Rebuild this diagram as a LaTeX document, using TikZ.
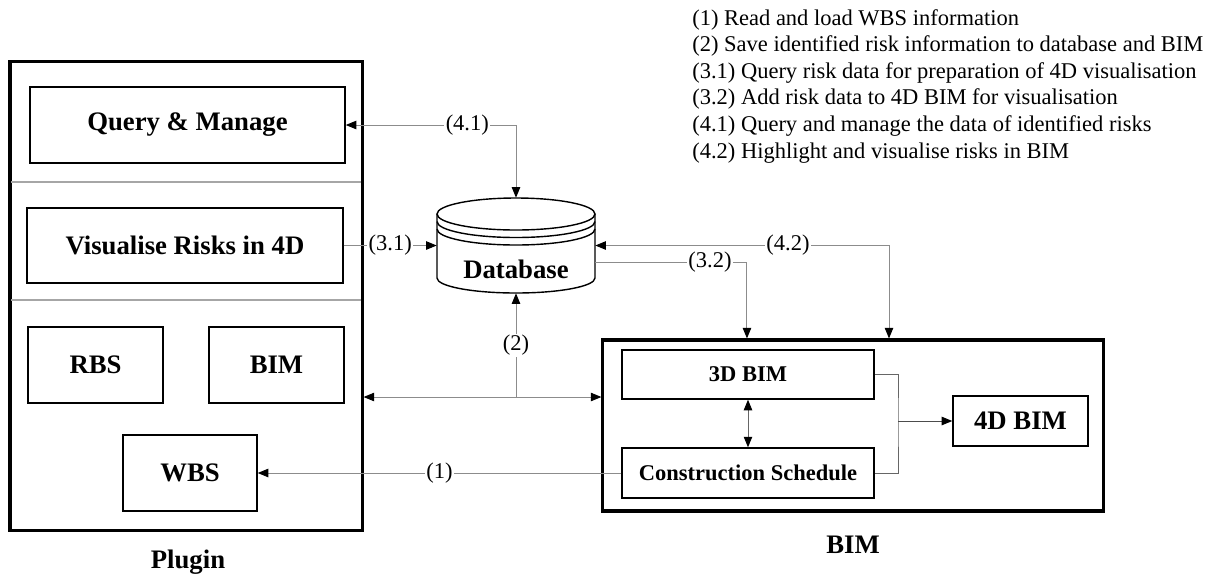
\documentclass[tikz,border=0pt]{standalone}
\usepackage{fontspec}
\setmainfont{Liberation Serif}
\usetikzlibrary{arrows.meta}

\tikzset{
	bigbox/.style={draw, line width=2.2pt, inner sep=0pt},
	box/.style={draw, line width=1pt, inner sep=0pt, font=\fontsize{19}{22}\selectfont\bfseries},
	smallbox/.style={box, font=\fontsize{16}{19}\selectfont\bfseries},
	divider/.style={draw=black!35, line width=0.9pt},
	conn/.style={draw=black!45, line width=0.7pt},
	lbl/.style={fill=white, inner sep=1pt, font=\fontsize{16}{18}\selectfont},
	title/.style={font=\fontsize{19}{22}\selectfont\bfseries}
}

\begin{document}
\begin{tikzpicture}[x=0.025cm, y=0.025cm, >={Triangle[length=7.5pt, width=6pt, color=black]}]
	\useasboundingbox (0, 0) rectangle (1219, -575);

	% plugin
	\node[bigbox, minimum width=8.8cm, minimum height=11.7cm] (plugin) at (186, -296) {};
	\draw[divider] (11, -182) -- (361, -182);
	\draw[divider] (11, -300) -- (361, -300);
	\node[box, minimum width=7.875cm, minimum height=1.9cm] (query) at (187.5, -125) {Query \& Manage};
	\node[box, minimum width=7.9cm, minimum height=1.875cm] (visual) at (185, -245.5) {Visualise Risks in 4D};
	\node[box, minimum width=3.375cm, minimum height=1.9cm] (rbs) at (95.5, -365) {RBS};
	\node[box, minimum width=3.375cm, minimum height=1.9cm] (pbim) at (276.5, -365) {BIM};
	\node[box, minimum width=3.35cm, minimum height=1.9cm] (wbs) at (190, -473) {WBS};
	\node[title] (plugintitle) at (188, -562) {Plugin};

	% database
	\node[minimum width=3.95cm, minimum height=2.375cm, inner sep=0pt] (db) at (516, -245.5) {};
	\draw[line width=1pt] (437, -214) -- (437, -278)
		arc[start angle=180, end angle=360, x radius=79, y radius=15] -- (595, -214);
	\draw[line width=1pt] (516, -214) ellipse[x radius=79, y radius=16];
	\draw[line width=1pt] (437, -221.5) arc[start angle=180, end angle=360, x radius=79, y radius=16];
	\draw[line width=1pt] (437, -229) arc[start angle=180, end angle=360, x radius=79, y radius=16];
	\node[title] (dbtext) at (516, -269) {Database};

	% BIM
	\node[bigbox, minimum width=12.5cm, minimum height=4.275cm] (bim) at (853, -425.5) {};
	\node[smallbox, minimum width=6.3cm, minimum height=1.225cm] (bim3d) at (748, -374.5) {3D BIM};
	\node[smallbox, minimum width=6.3cm, minimum height=1.25cm] (sched) at (748, -473) {Construction Schedule};
	\node[box, minimum width=3.375cm, minimum height=1.25cm] (bim4d) at (1020.5, -421) {4D BIM};
	\node[title] (bimtitle) at (853, -545) {BIM};

	\coordinate (merge) at (898, -421);
	\coordinate (j2) at (516, -397);

	% connectors
	\draw[conn, <->] (query.east) -| node[lbl, pos=0.357] {(4.1)} (db.north);
	\draw[conn, ->] (visual.east) -- node[lbl] {(3.1)} (db.west);
	\draw[conn, ->] ([yshift=-0.4125cm]db.east) -| node[lbl, pos=0.378] {(3.2)} ([xshift=-2.65cm]bim.north);
	\draw[conn, <->] (db.east) -| node[lbl, pos=0.328] {(4.2)} ([xshift=0.9cm]bim.north);
	\draw[conn, <->] (plugin.east |- j2) -- (bim.west |- j2);
	\draw[conn, ->] (j2) -- node[lbl] {(2)} (db.south);
	\draw[conn, ->] (sched.west) -- node[lbl] {(1)} (wbs.east);
	\draw[conn, draw=black!60, <->] (bim3d.south) -- (sched.north);
	\draw[conn, draw=black!60] (bim3d.east) -| (merge) |- (sched.east);
	\draw[conn, draw=black!70, ->] (merge) -- (bim4d.west);

	% legend
	\node[anchor=north west, inner sep=0pt, align=left, font=\fontsize{16}{18.9}\selectfont] (legend) at (692, -9) {%
		(1) Read and load WBS information\\
		(2) Save identified risk information to database and BIM\\
		(3.1) Query risk data for preparation of 4D visualisation\\
		(3.2) Add risk data to 4D BIM for visualisation\\
		(4.1) Query and manage the data of identified risks\\
		(4.2) Highlight and visualise risks in BIM};
\end{tikzpicture}
\end{document}
